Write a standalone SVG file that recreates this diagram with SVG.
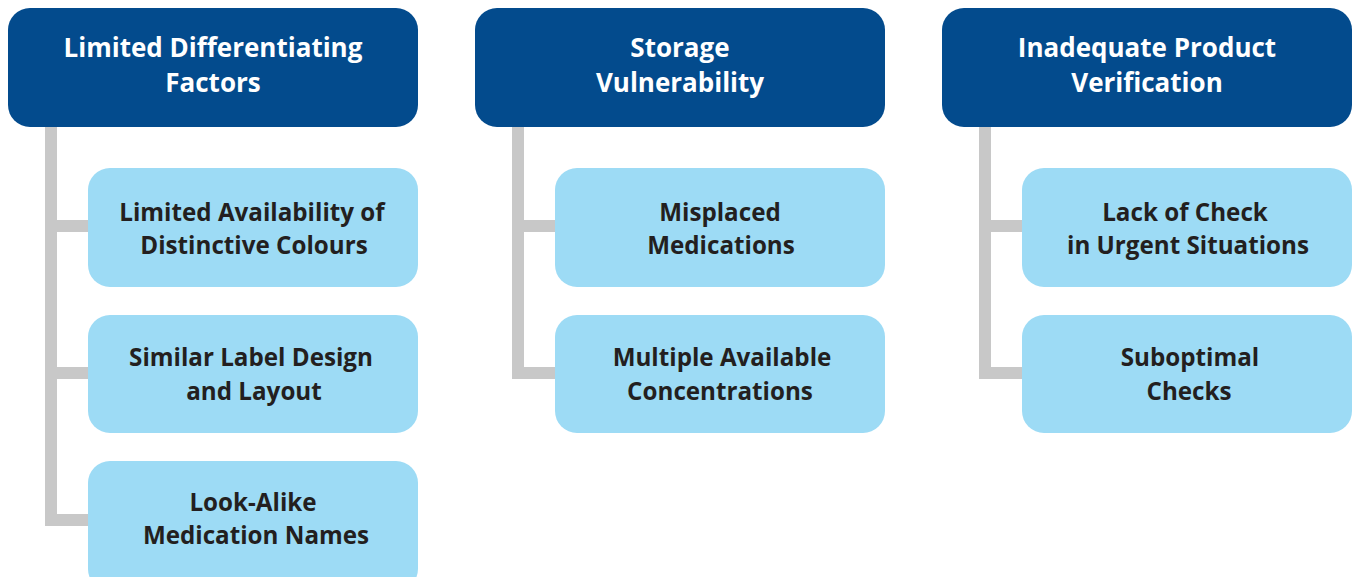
<svg xmlns="http://www.w3.org/2000/svg" width="1353" height="577" viewBox="0 0 1353 577">
<style>
.hdr{fill:#034b8d}
.sub{fill:#9ddbf5}
.ht{fill:#ffffff;font-family:"Open Sans","Liberation Sans",sans-serif;font-weight:700;font-size:26px;text-anchor:middle}
.st{fill:#231f20;font-family:"Open Sans","Liberation Sans",sans-serif;font-weight:700;font-size:24.2px;text-anchor:middle}
.conn{fill:#c8c8c8}
</style>
<rect width="1353" height="577" fill="#ffffff"/>
<g id="connectors">
<rect class="conn" x="45" y="120" width="12" height="405"/>
<rect class="conn" x="45" y="220" width="50" height="12"/>
<rect class="conn" x="45" y="367" width="50" height="12"/>
<rect class="conn" x="45" y="514" width="50" height="12"/>
<rect class="conn" x="512" y="120" width="12" height="259"/>
<rect class="conn" x="512" y="220" width="50" height="12"/>
<rect class="conn" x="512" y="367" width="50" height="12"/>
<rect class="conn" x="979" y="120" width="12" height="259"/>
<rect class="conn" x="979" y="220" width="50" height="12"/>
<rect class="conn" x="979" y="367" width="50" height="12"/>
</g>
<g id="h1"><rect class="hdr" x="8" y="8" width="410" height="119" rx="22"/>
<text class="ht" x="213" y="57">Limited Differentiating</text><text class="ht" x="213" y="92">Factors</text></g>
<g id="h2"><rect class="hdr" x="475" y="8" width="410" height="119" rx="22"/>
<text class="ht" x="680" y="57">Storage</text><text class="ht" x="680" y="92">Vulnerability</text></g>
<g id="h3"><rect class="hdr" x="942" y="8" width="410" height="119" rx="22"/>
<text class="ht" x="1147" y="57">Inadequate Product</text><text class="ht" x="1147" y="92">Verification</text></g>
<g id="c1a"><rect class="sub" x="88" y="168" width="330" height="119" rx="22"/>
<text class="st" x="252" y="221">Limited Availability of</text><text class="st" x="254" y="254">Distinctive Colours</text></g>
<g id="c1b"><rect class="sub" x="88" y="315" width="330" height="118" rx="22"/>
<text class="st" x="251" y="366">Similar Label Design</text><text class="st" x="254" y="400">and Layout</text></g>
<g id="c1c"><rect class="sub" x="88" y="461" width="330" height="130" rx="22"/>
<text class="st" x="253" y="511">Look-Alike</text><text class="st" x="256" y="544">Medication Names</text></g>
<g id="c2a"><rect class="sub" x="555" y="168" width="330" height="119" rx="22"/>
<text class="st" x="720" y="221">Misplaced</text><text class="st" x="721" y="254">Medications</text></g>
<g id="c2b"><rect class="sub" x="555" y="315" width="330" height="118" rx="22"/>
<text class="st" x="722" y="366">Multiple Available</text><text class="st" x="720" y="400">Concentrations</text></g>
<g id="c3a"><rect class="sub" x="1022" y="168" width="330" height="119" rx="22"/>
<text class="st" x="1185" y="221">Lack of Check</text><text class="st" x="1188" y="254">in Urgent Situations</text></g>
<g id="c3b"><rect class="sub" x="1022" y="315" width="330" height="118" rx="22"/>
<text class="st" x="1190" y="366">Suboptimal</text><text class="st" x="1189" y="400">Checks</text></g>
</svg>
